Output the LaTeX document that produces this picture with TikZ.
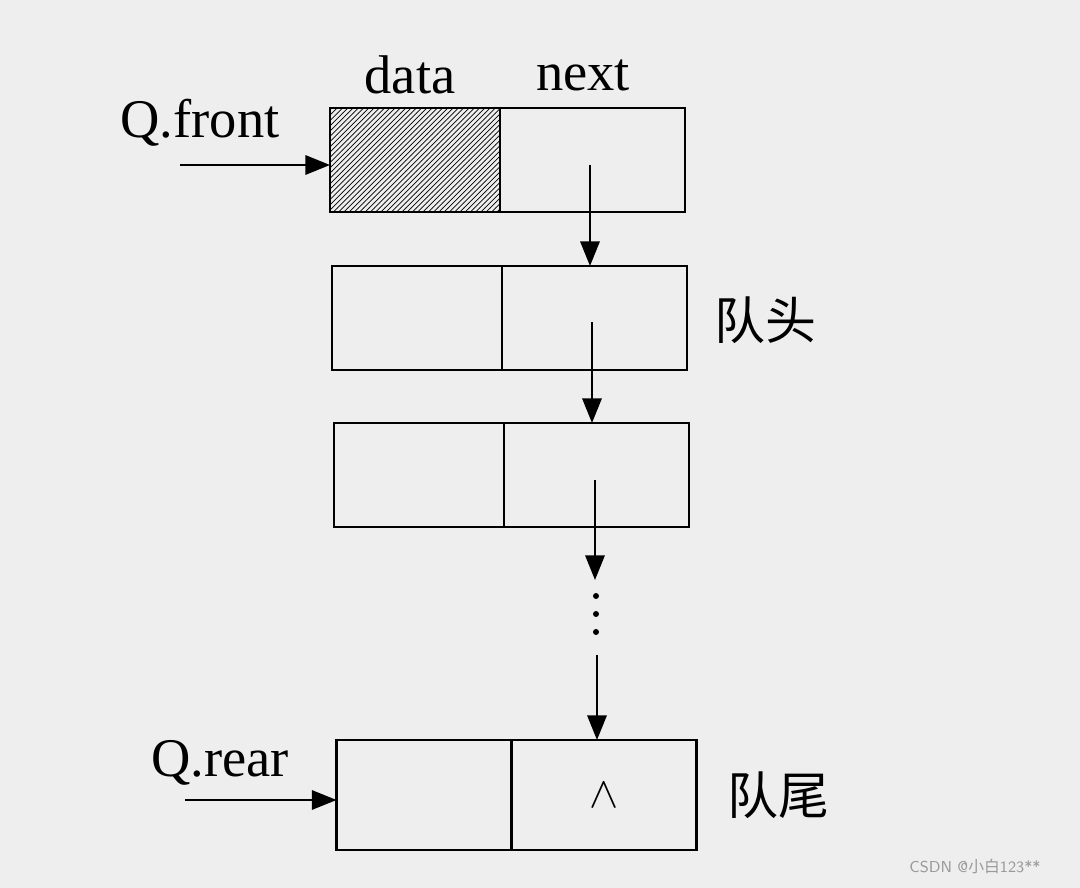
\documentclass[tikz,border=0pt]{standalone}
\usepackage{fontspec}
\setmainfont{Liberation Serif}
\newfontfamily\cjk{Noto Sans CJK SC}
\usetikzlibrary{patterns,arrows.meta}
\tikzset{
    cellnode/.style = {rectangle, draw=black, line width=1.4pt, minimum width=3.4cm, minimum height=2.08cm, inner sep=0pt, outer sep=0pt},
    nextnode/.style = {cellnode, minimum width=3.7cm, anchor=west},
    datanode/.style = {cellnode, pattern=north east lines},
    edgen/.style = {-{Triangle[length=14pt,width=11pt]}, line width=1.2pt, black},
    txt/.style = {font=\fontsize{31}{34}\selectfont, inner sep=0pt},
    cjktxt/.style = {font=\cjk\fontsize{29}{32}\selectfont, inner sep=0pt}
}
\begin{document}
\begin{tikzpicture}[x=0.02cm, y=-0.02cm]
  \fill[gray!13] (0,0) rectangle (1080,888);
  \useasboundingbox (0,0) rectangle (1080,888);
  % first node (head)
  \node[datanode] (d1) at (415,160) {};
  \node[nextnode] (n1) at (d1.east) {};
  % nodes
  \node[cellnode] (d2) at (417,318) {};
  \node[nextnode] (n2) at (d2.east) {};
  \node[cellnode] (d3) at (419,475) {};
  \node[nextnode] (n3) at (d3.east) {};
  \node[cellnode, minimum height=2.2cm, minimum width=3.5cm] (d4) at (424,795) {};
  \node[nextnode, minimum height=2.2cm] (n4) at (d4.east) {\fontsize{40}{42}\selectfont$\wedge$};
  % labels
  \node[txt] (ldata) at (410,75) {data};
  \node[txt] (lnext) at (583,75) {next};
  \node[txt] (lfront) at (200,123) {Q.front};
  \node[txt] (lrear) at (220,763) {Q.rear};
  \node[cjktxt] (lhead) at (765,320) {队头};
  \node[cjktxt] (ltail) at (778,795) {队尾};
  \node[font=\sffamily\small, text=gray!80, inner sep=0pt] (mark) at (975,866) {CSDN @{\cjk 小白}123**};
  % pointers
  \coordinate (f0) at (180,165);
  \coordinate (r0) at (185,800);
  \coordinate (p1) at (590,165);
  \coordinate (p2) at (592,322);
  \coordinate (p3) at (595,480);
  \coordinate (q3) at (595,580);
  \coordinate (p4) at (597,655);
  \draw[edgen] (f0) -- (d1.west |- f0);
  \draw[edgen] (r0) -- (d4.west |- r0);
  \draw[edgen] (p1) -- (p1 |- n2.north);
  \draw[edgen] (p2) -- (p2 |- n3.north);
  \draw[edgen] (p3) -- (q3);
  \draw[edgen] (p4) -- (p4 |- n4.north);
  \foreach \y in {596,614,632}
    \fill (596,\y) circle (3);
\end{tikzpicture}
\end{document}
